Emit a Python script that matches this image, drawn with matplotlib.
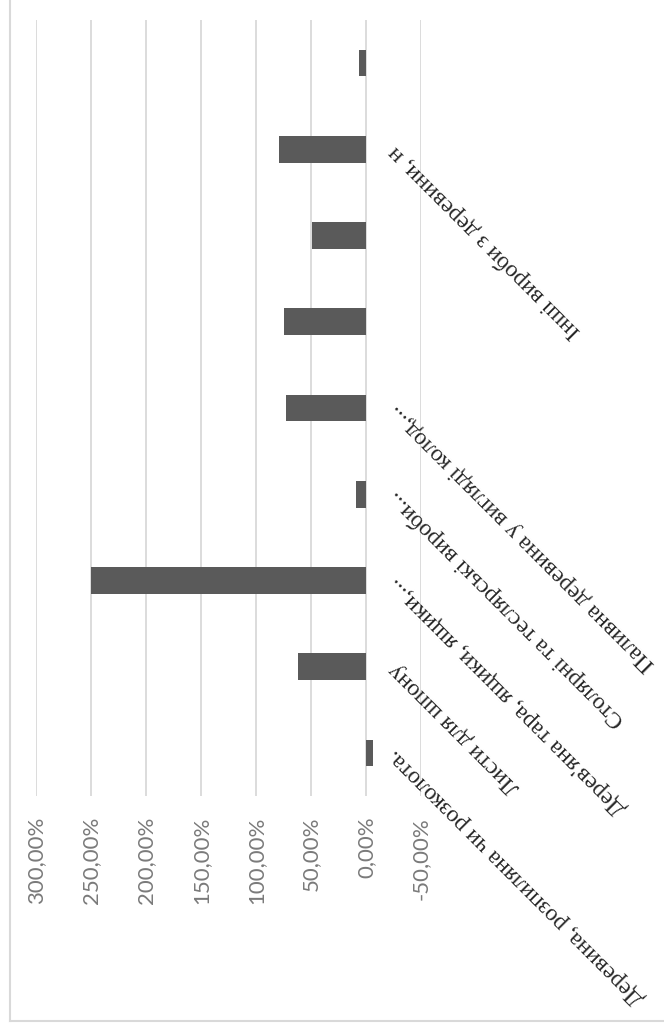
import matplotlib
matplotlib.use('Agg')
import matplotlib.pyplot as plt
from matplotlib.lines import Line2D

# categories from bottom to top of the (rotated) chart
categories = [
    'Деревина, розпиляна чи розколота.',
    'Листи для шпону',
    "Дерев'яна тара, ящики, ящики,...",
    'Столярні та теслярські вироби...',
    'Паливна деревина у вигляді колод,...',
    '',
    '',
    'Інші вироби з деревини, н',
    '',
]
values = [-6.0, 62.0, 250.0, 9.5, 72.8, 74.4, 49.4, 79.0, 6.7]
ticks = [-50, 0, 50, 100, 150, 200, 250, 300]

fig = plt.figure(figsize=(6.64, 10.30), dpi=100)
W, H = 664, 1030
ax = fig.add_axes([36 / W, 1 - 796 / H, (421 - 36) / W, (796 - 20) / H])

pos = list(range(len(categories)))
ax.barh(pos, values, height=0.31, color='#5a5a5a', zorder=3)

ax.set_xlim(300, -50)
ax.set_ylim(-0.5, len(categories) - 0.5)
ax.set_xticks(ticks)
ax.set_xticklabels([f'{t:.2f}'.replace('.', ',') + '%' for t in ticks],
                   rotation=90, va='top', ha='center',
                   fontsize=16, color='#7a7a7a', family='Lato')
ax.tick_params(axis='x', length=0, pad=15)
ax.set_yticks([])
ax.grid(axis='x', color='#d9d9d9', lw=1.3, zorder=0)
for s in ax.spines.values():
    s.set_visible(False)

for p, lab in zip(pos, categories):
    if lab:
        ax.annotate(lab, xy=(0, p), xytext=(26, 0), textcoords='offset pixels',
                    rotation=135, rotation_mode='anchor', ha='right', va='center',
                    fontsize=17, family='Liberation Serif', color='#262626',
                    annotation_clip=False)

# outer chart frame
fig.add_artist(Line2D([10 / W, 10 / W], [1 - 1021 / H, 1], color='#d9d9d9', lw=1.5))
fig.add_artist(Line2D([10 / W, 1], [1 - 1021 / H, 1 - 1021 / H], color='#d9d9d9', lw=1.5))

fig.savefig('out.png', dpi=100, facecolor='white')
